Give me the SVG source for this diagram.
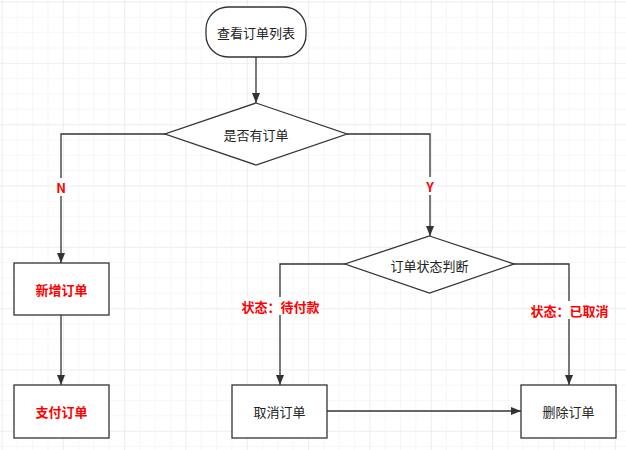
<svg xmlns="http://www.w3.org/2000/svg" width="626" height="450" viewBox="0 0 626 450">
  <defs>
    <pattern id="minor" x="1.5" y="1.5" width="15.33" height="15.33" patternUnits="userSpaceOnUse">
      <path d="M15.33 0 L0 0 L0 15.33" fill="none" stroke="#f0f0f0" stroke-width="1"/>
    </pattern>
    <pattern id="major" x="1.5" y="1.5" width="61.33" height="61.33" patternUnits="userSpaceOnUse">
      <path d="M61.33 0 L0 0 L0 61.33" fill="none" stroke="#e6e6e6" stroke-width="1"/>
    </pattern>
    <marker id="arrow" viewBox="0 0 10 10" refX="10" refY="5" markerWidth="10" markerHeight="10" markerUnits="userSpaceOnUse" orient="auto">
      <path d="M0 1 L10 5 L0 9 Z" fill="#333"/>
    </marker>
    <style>
      .shape { fill: #fff; stroke: #333; stroke-width: 1.3; }
      .edge { fill: none; stroke: #333; stroke-width: 1.3; }
      .t { font-family: "Noto Sans CJK SC", "Liberation Sans", sans-serif; font-size: 13px; fill: #222; text-anchor: middle; dominant-baseline: central; }
      .red { fill: #ff0000; font-weight: bold; }
      .lbl { font-family: "Noto Sans CJK SC", "Liberation Sans", sans-serif; font-size: 13px; fill: #ff0000; font-weight: bold; text-anchor: middle; dominant-baseline: central; }
    </style>
  </defs>
  <rect width="626" height="450" fill="#fff"/>
  <rect width="626" height="450" fill="url(#minor)"/>
  <rect width="626" height="450" fill="url(#major)"/>

  <g id="connectors">
    <path class="edge" d="M256 57 L256 103" marker-end="url(#arrow)"/>
    <path class="edge" d="M165 134 L61 134 L61 263" marker-end="url(#arrow)"/>
    <path class="edge" d="M347 134 L430 134 L430 236" marker-end="url(#arrow)"/>
    <path class="edge" d="M61 315 L61 385" marker-end="url(#arrow)"/>
    <path class="edge" d="M345 264 L280 264 L280 385" marker-end="url(#arrow)"/>
    <path class="edge" d="M514 264 L569 264 L569 385" marker-end="url(#arrow)"/>
    <path class="edge" d="M327 411 L521 411" marker-end="url(#arrow)"/>
    <rect x="54" y="178" width="14" height="18" fill="#fff"/>
    <text class="lbl" x="61" y="187">N</text>
    <rect x="423" y="177" width="14" height="18" fill="#fff"/>
    <text class="lbl" x="430" y="186">Y</text>
    <rect x="241" y="297" width="79" height="18" fill="#fff"/>
    <text class="lbl" x="280.5" y="306">状态：待付款</text>
    <rect x="530" y="301" width="79" height="18" fill="#fff"/>
    <text class="lbl" x="569.5" y="310">状态：已取消</text>
  </g>

  <g id="start">
    <rect class="shape" x="206" y="7" width="100" height="50" rx="22" ry="22"/>
    <text class="t" x="256" y="32">查看订单列表</text>
  </g>
  <g id="hasOrder">
    <polygon class="shape" points="256,103 347,134 256,165 165,134"/>
    <text class="t" x="256" y="134">是否有订单</text>
  </g>
  <g id="newOrder">
    <rect class="shape" x="14" y="263" width="95" height="52"/>
    <text class="t red" x="61.5" y="289">新增订单</text>
  </g>
  <g id="payOrder">
    <rect class="shape" x="14" y="385" width="95" height="53"/>
    <text class="t red" x="61.5" y="411">支付订单</text>
  </g>
  <g id="status">
    <polygon class="shape" points="429.5,236 514,264 429.5,293 345,264"/>
    <text class="t" x="429.5" y="265">订单状态判断</text>
  </g>
  <g id="cancelOrder">
    <rect class="shape" x="232" y="385" width="95" height="53"/>
    <text class="t" x="279.5" y="411">取消订单</text>
  </g>
  <g id="deleteOrder">
    <rect class="shape" x="521" y="385" width="95" height="53"/>
    <text class="t" x="568.5" y="411">删除订单</text>
  </g>
</svg>
